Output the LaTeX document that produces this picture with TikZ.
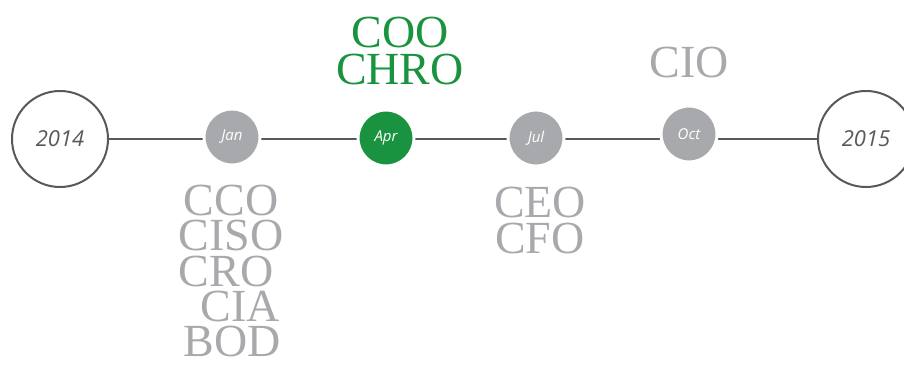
\documentclass[tikz,border=0pt]{standalone}
\usepackage{fontspec}
\setmainfont{Liberation Serif}
\newfontfamily\monthfont{Open Sans}
\definecolor{linegray}{HTML}{58595B}
\definecolor{dotgray}{HTML}{A7A9AC}
\definecolor{rolegreen}{HTML}{1A9340}
\tikzset{
  yearnode/.style={circle, draw=linegray, line width=2pt, fill=white, minimum size=96pt, inner sep=0pt,
    font=\monthfont\itshape\fontsize{22}{22}\selectfont, text=linegray},
  monthnode/.style={circle, fill=#1, draw=white, line width=3pt, minimum size=56pt, inner sep=0pt,
    font=\monthfont\itshape\fontsize{15}{15}\selectfont, text=white},
  rolebase/.style={anchor=base, inner sep=0pt, text height=30pt, text depth=0pt,
    font=\fontsize{46}{46}\selectfont},
  rolegray/.style={rolebase, text=dotgray},
  rolegrn/.style={rolebase, text=rolegreen},
  timeline/.style={draw=linegray, line width=2.2pt}
}
\begin{document}
\begin{tikzpicture}[x=1pt,y=-1pt]
\useasboundingbox (0,0) rectangle (904,371);
\node[yearnode] (y14) at (60,139) {2014};
\node[yearnode] (y15) at (866,139) {2015};
\draw[timeline] (y14) -- (y15);
\node[monthnode=dotgray] (jan) at (232,137) {Jan};
\node[monthnode=rolegreen] (apr) at (386,138) {Apr};
\node[monthnode=dotgray] (jul) at (536,138) {Jul};
\node[monthnode=dotgray] (oct) at (689,134) {Oct};
% green roles above Apr
\node[rolegrn] (coo) at (400,48) {COO};
\node[rolegrn] (chro) at (400,85) {CHRO};
% CIO above Oct
\node[rolegray] (cio) at (689,78) {CIO};
% CEO / CFO below Jul
\node[rolegray] (ceo) at (540,218) {CEO};
\node[rolegray] (cfo) at (540,254) {CFO};
% roles below Jan
\node[rolegray] (cco) at (231,216) {CCO};
\node[rolegray] (ciso) at (231,251) {CISO};
\node[rolegray] (cro) at (226,286) {CRO};
\node[rolegray] (cia) at (240,321) {CIA};
\node[rolegray] (bod) at (232,356) {BOD};
\end{tikzpicture}
\end{document}
